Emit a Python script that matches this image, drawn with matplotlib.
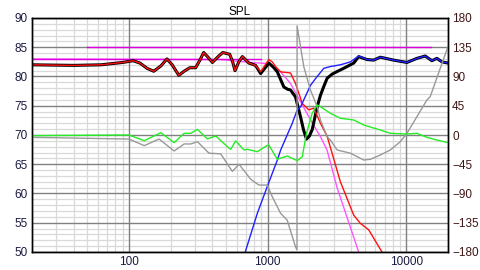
import matplotlib
matplotlib.use("Agg")
import matplotlib.pyplot as plt
from matplotlib.ticker import FixedLocator, NullFormatter

plt.rcParams['font.family'] = ['Liberation Sans', 'DejaVu Sans']

# summed response (black)
sum_f = [20, 40, 63, 90, 107, 120, 135, 151, 170, 188, 205, 229, 250, 275, 303, 325, 346,
         372, 400, 440, 475, 533, 560, 582, 620, 658, 733, 820, 891, 1021, 1100, 1175,
         1310, 1400, 1463, 1590, 1728, 1820, 1908, 2000, 2097, 2278, 2406, 2543, 2687,
         2918, 3200, 3540, 4178, 4537, 5210, 5818, 6500, 8106, 10115, 11940, 13700,
         15310, 16630, 18070, 20000]
sum_db = [82.0, 81.9, 82.0, 82.4, 82.7, 82.3, 81.4, 80.9, 81.8, 83.0, 82.0, 80.2, 80.9, 81.5,
          81.5, 82.8, 84.1, 83.3, 82.4, 83.4, 84.1, 83.8, 82.5, 81.0, 82.5, 83.4, 82.3,
          81.9, 80.5, 82.3, 81.6, 80.8, 78.2, 77.8, 77.7, 76.5, 73.1, 70.8, 69.3, 69.8,
          70.9, 74.8, 76.8, 78.3, 79.7, 80.4, 80.9, 81.4, 82.3, 83.4, 82.9, 82.8, 83.3,
          82.8, 82.4, 83.1, 83.5, 82.7, 83.1, 82.5, 82.3]

# woofer (red)
woof_f = [20, 40, 63, 90, 107, 120, 135, 151, 170, 188, 205, 229, 250, 275, 303, 325, 346,
          372, 400, 440, 475, 533, 560, 582, 620, 658, 733, 820, 891, 950, 1021, 1081,
          1142, 1241, 1347, 1463, 1590, 1778, 1982, 2154, 2406, 2687, 3350, 4178, 4667,
          5355, 6683, 7674]
woof_db = [82.0, 81.9, 82.0, 82.4, 82.7, 82.3, 81.4, 80.9, 81.8, 83.0, 82.0, 80.2, 80.9, 81.5,
           81.5, 82.8, 84.1, 83.3, 82.4, 83.4, 84.1, 83.8, 82.5, 81.0, 82.5, 83.4, 82.3,
           81.9, 80.8, 81.8, 82.9, 82.5, 81.7, 80.8, 80.7, 80.6, 78.8, 75.4, 74.3, 74.6,
           72.0, 69.8, 62.0, 56.3, 54.9, 53.8, 50.0, 47.0]

# tweeter (blue)
tw_f = [640, 690, 843, 995, 1175, 1241, 1506, 1636, 1728, 2039, 2278, 2543, 2838, 3350,
        3955, 4537, 5210, 5818, 6500, 8106, 10115, 11940, 13700, 15310, 16630, 18070, 20000]
tw_db = [48.0, 50.0, 56.6, 61.2, 65.7, 67.4, 72.0, 74.3, 74.8, 78.5, 80.0, 81.4, 81.7, 82.0,
         82.5, 83.5, 82.9, 82.8, 83.3, 82.8, 82.4, 83.1, 83.5, 82.7, 83.1, 82.5, 82.3]

# target low-pass (pink)
tgt_f = [20, 459, 755, 1021, 1241, 1463, 1728, 2039, 2406, 2687, 3170, 4537, 5000]
tgt_db = [83.0, 82.9, 82.4, 82.2, 80.8, 78.8, 75.7, 72.6, 69.7, 67.4, 61.0, 50.0, 47.0]

# reference levels
ref_hi_f = [50, 15000]
ref_hi_db = [85, 85]
ref_lo_f = [20, 900]
ref_lo_db = [83, 83]

# phase curves (degrees)
ph_g_f = [20, 100, 129, 170, 212, 250, 279, 312, 368, 423, 513, 542, 589, 675, 714, 843,
          995, 1021, 1175, 1385, 1636, 1778, 1908, 2097, 2278, 2406, 2838, 3350, 4178,
          4931, 6500, 7674, 10115, 11940, 14090, 16630, 20000]
ph_g = [-1, 0, -8.8, 3.6, -11.8, 2.6, 2.6, 8.6, -6, -1.5, -18, -22, -9, -23, -22, -25.7,
        -16, -15.4, -37.4, -32.3, -39.5, -33.4, 2.6, 33.4, 46.2, 43.6, 33.4, 25.7, 23.1,
        15.4, 7.7, 2.6, 1.5, 2.6, -3.6, -7.7, -11.8]

ph_k_f = [20, 100, 129, 165, 212, 250, 279, 312, 378, 459, 557, 622, 755, 865, 995, 1081,
          1241, 1385, 1590, 1630, 1632, 1825, 2039, 2278, 2406, 2687, 2838, 3170, 3955,
          4931, 5508, 6500, 7674, 9057, 10115, 11940, 14090, 14890, 17080, 20000]
ph_k = [-3.6, -6.2, -16.4, -6.2, -24.6, -13.8, -13.8, -10.3, -28, -29, -56, -45, -68, -77,
        -77, -95, -120.5, -131, -172, -177, 168, 105, 69, 43.6, 23, -2.6, -7.7, -23, -28,
        -38.5, -37.4, -30.8, -23, -10.3, 2.6, 28.2, 53.8, 59, 95, 136]

fig = plt.figure(figsize=(4.8, 2.7), dpi=100)
ax = fig.add_axes([32 / 480, 18 / 270, 416 / 480, 234 / 270])
ax2 = ax.twinx()

ax.set_xscale('log')
ax.set_xlim(20, 20000)
ax.set_ylim(50, 90)
ax2.set_ylim(-180, 180)

major_x = [100, 1000, 10000]
minor_x = [m * 10 ** e for e in range(1, 5) for m in range(2, 10) if 20 <= m * 10 ** e <= 20000]
major_y = list(range(50, 91, 5))
minor_y = [v for v in range(50, 91) if v % 5]

ax.xaxis.set_major_locator(FixedLocator(major_x))
ax.xaxis.set_minor_locator(FixedLocator(minor_x))
ax.xaxis.set_minor_formatter(NullFormatter())
ax.set_xticklabels(['100', '1000', '10000'])
ax.yaxis.set_major_locator(FixedLocator(major_y))
ax2.yaxis.set_major_locator(FixedLocator(range(-180, 181, 45)))

# grid: light minor lines first, darker major lines on top
for v in minor_x:
    ax.axvline(v, color='#d9d9d9', lw=0.9, zorder=0.5)
for v in minor_y:
    ax.axhline(v, color='#d9d9d9', lw=0.9, zorder=0.5)
for v in major_x:
    ax.axvline(v, color='#808080', lw=1.0, zorder=0.6)
for v in major_y:
    ax.axhline(v, color='#808080', lw=1.0, zorder=0.6)

for a in (ax, ax2):
    a.tick_params(which='both', length=0, labelsize=8.5, pad=3)
    for s in a.spines.values():
        s.set_color('black')
        s.set_linewidth(1)
ax.tick_params(axis='y', labelcolor='#1a1a40')
ax.tick_params(axis='x', labelcolor='#1a1a40')
ax2.tick_params(axis='y', labelcolor='#401515')

ax.plot(ref_hi_f, ref_hi_db, color='#dd00dd', lw=1)
ax.plot(tgt_f, tgt_db, color='#ff55ff', lw=1)
ax.plot(ref_lo_f, ref_lo_db, color='#dd00dd', lw=1)
ax.plot(sum_f, sum_db, color='black', lw=2.2)
ax.plot(woof_f, woof_db, color='#ff1010', lw=1)
ax.plot(tw_f, tw_db, color='#2020ff', lw=1)

ax2.plot(ph_k_f, ph_k, color='#999999', lw=1)
ax2.plot(ph_g_f, ph_g, color='#22ee22', lw=1)

ax.set_title('SPL', fontsize=8.5, pad=2)

fig.savefig('out.png', dpi=100)
